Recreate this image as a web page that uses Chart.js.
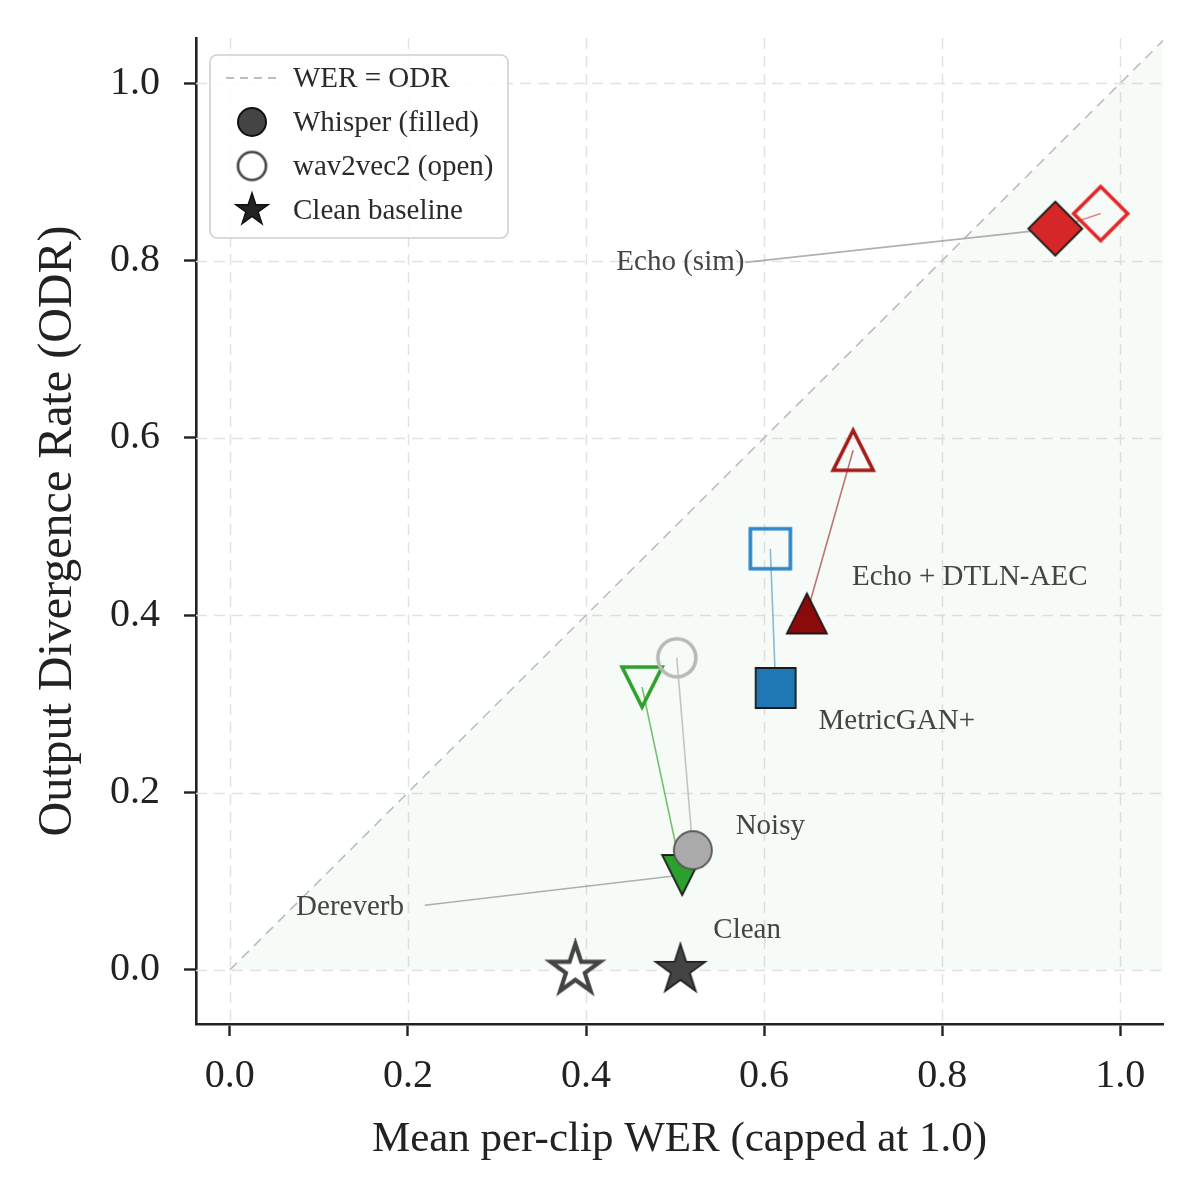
<!DOCTYPE html>
<html>
<head>
<meta charset="utf-8">
<script src="https://cdn.jsdelivr.net/npm/chart.js@4.4.1/dist/chart.umd.min.js"></script>
<style>
  html, body { margin: 0; padding: 0; background: #ffffff; }
  #wrap { width: 1200px; height: 1200px; }
</style>
</head>
<body>
<div id="wrap"><canvas id="c" width="1200" height="1200"></canvas></div>
<script>
// ---------------- data ----------------
const conditions = ['Clean', 'Noisy', 'Dereverb', 'MetricGAN+', 'Echo + DTLN-AEC', 'Echo (sim)'];
const whisperWER = [0.506, 0.520, 0.508, 0.613, 0.648, 0.927];
const whisperODR = [0.000, 0.135, 0.107, 0.318, 0.402, 0.836];
const w2vWER     = [0.388, 0.502, 0.463, 0.607, 0.700, 0.978];
const w2vODR     = [0.000, 0.352, 0.319, 0.475, 0.586, 0.853];
const xTicks = [0.0, 0.2, 0.4, 0.6, 0.8, 1.0];
const yTicks = [0.0, 0.2, 0.4, 0.6, 0.8, 1.0];
const legendLabels = ['WER = ODR', 'Whisper (filled)', 'wav2vec2 (open)', 'Clean baseline'];
const xTitle = 'Mean per-clip WER (capped at 1.0)';
const yTitle = 'Output Divergence Rate (ODR)';

// ---------------- layout / style ----------------
const FONT = "'Liberation Serif', 'DejaVu Serif', serif";
const styles = [
  { shape: 'star',    size: 26, fill: '#444444', edge: '#222222', open: '#444444', link: null },
  { shape: 'circle',  size: 19, fill: '#aaaaaa', edge: '#555555', open: '#b8b8b8', link: 'rgba(160,160,160,0.6)' },
  { shape: 'tridown', size: 20, fill: '#2ca02c', edge: '#1a1a1a', open: '#2ca02c', link: 'rgba(44,160,44,0.65)' },
  { shape: 'square',  size: 20, fill: '#1f77b4', edge: '#1a1a1a', open: '#2f86c6', link: 'rgba(31,119,180,0.5)' },
  { shape: 'triup',   size: 20, fill: '#8b0a0a', edge: '#1a1a1a', open: '#a31a1a', link: 'rgba(139,10,10,0.55)' },
  { shape: 'diamond', size: 27, fill: '#d62728', edge: '#1a1a1a', open: '#e3262a', link: 'rgba(214,39,40,0.55)' }
];
// annotation placement (data coords)
const annX = [0.581, 0.607, 0.135, 0.749, 0.831, 0.506];
const annY = [0.045, 0.162, 0.070, 0.280, 0.443, 0.798];
// leader line start points for the annotations that have one
const leaders = [
  { idx: 5, x: 0.579, y: 0.798 },
  { idx: 2, x: 0.219, y: 0.073 }
];

function pathShape(ctx, shape, s) {
  ctx.beginPath();
  if (shape === 'circle') {
    ctx.arc(0, 0, s, 0, Math.PI * 2);
  } else if (shape === 'square') {
    ctx.rect(-s, -s, 2 * s, 2 * s);
  } else if (shape === 'diamond') {
    ctx.moveTo(0, -s); ctx.lineTo(s, 0); ctx.lineTo(0, s); ctx.lineTo(-s, 0); ctx.closePath();
  } else if (shape === 'triup') {
    ctx.moveTo(0, -s); ctx.lineTo(s, s); ctx.lineTo(-s, s); ctx.closePath();
  } else if (shape === 'tridown') {
    ctx.moveTo(0, s); ctx.lineTo(s, -s); ctx.lineTo(-s, -s); ctx.closePath();
  } else if (shape === 'star') {
    const inner = s * 0.381966;
    for (let k = 0; k < 10; k++) {
      const r = k % 2 === 0 ? s : inner;
      const a = -Math.PI / 2 + k * Math.PI / 5;
      const px = r * Math.cos(a), py = r * Math.sin(a);
      if (k === 0) ctx.moveTo(px, py); else ctx.lineTo(px, py);
    }
    ctx.closePath();
  }
}

function makeMarker(shape, s, fill, edge, lw) {
  const c = document.createElement('canvas');
  const dim = Math.ceil(2 * s + lw + 6);
  c.width = dim; c.height = dim;
  const ctx = c.getContext('2d');
  ctx.translate(dim / 2, dim / 2);
  pathShape(ctx, shape, s);
  ctx.lineJoin = 'miter';
  if (fill) { ctx.fillStyle = fill; ctx.fill(); }
  ctx.lineWidth = lw; ctx.strokeStyle = edge; ctx.stroke();
  return c;
}

// ---------------- datasets ----------------
const datasets = [];

// y = x reference line, with shaded region beneath it
datasets.push({
  type: 'line', label: legendLabels[0],
  data: [{ x: 0, y: 0 }, { x: 1.2, y: 1.2 }],
  borderColor: '#bdbdbd', borderWidth: 1.6, borderDash: [10, 7],
  backgroundColor: 'rgba(44,160,44,0.04)', fill: 'origin',
  pointRadius: 0, order: 20
});

// links between wav2vec2 and Whisper per condition
conditions.forEach((name, i) => {
  if (!styles[i].link) return;
  datasets.push({
    type: 'line', label: name + ' link',
    data: [{ x: w2vWER[i], y: w2vODR[i] }, { x: whisperWER[i], y: whisperODR[i] }],
    borderColor: styles[i].link, borderWidth: 1.6, pointRadius: 0, fill: false, order: 10
  });
});

// leader lines for annotations
leaders.forEach(L => {
  datasets.push({
    type: 'line', label: conditions[L.idx] + ' leader',
    data: [{ x: L.x, y: L.y }, { x: whisperWER[L.idx], y: whisperODR[L.idx] }],
    borderColor: 'rgba(150,150,150,0.75)', borderWidth: 1.6, pointRadius: 0, fill: false, order: 10
  });
});

// markers
conditions.forEach((name, i) => {
  const st = styles[i];
  const openImg = makeMarker(st.shape, st.size, st.shape === 'star' ? '#ffffff' : null, st.open, st.shape === 'star' ? 4.2 : 3.6);
  const fillImg = makeMarker(st.shape, st.size, st.fill, st.edge, 1.8);
  datasets.push({
    type: 'scatter', label: name + ' wav2vec2',
    data: [{ x: w2vWER[i], y: w2vODR[i] }],
    pointStyle: openImg, pointRadius: st.size, order: 2
  });
  datasets.push({
    type: 'scatter', label: name + ' Whisper',
    data: [{ x: whisperWER[i], y: whisperODR[i] }],
    pointStyle: fillImg, pointRadius: st.size, order: 1
  });
});

// ---------------- plugins ----------------
const gridPlugin = {
  id: 'dashGrid',
  beforeDatasetsDraw(chart) {
    const { ctx, chartArea: a, scales: { x, y } } = chart;
    ctx.save();
    ctx.strokeStyle = '#e2e2e2';
    ctx.lineWidth = 1.5;
    ctx.setLineDash([11, 7]);
    xTicks.forEach(v => {
      const px = Math.round(x.getPixelForValue(v)) + 0.5;
      ctx.beginPath(); ctx.moveTo(px, a.top); ctx.lineTo(px, a.bottom); ctx.stroke();
    });
    yTicks.forEach(v => {
      const py = Math.round(y.getPixelForValue(v)) + 0.5;
      ctx.beginPath(); ctx.moveTo(a.left, py); ctx.lineTo(a.right, py); ctx.stroke();
    });
    ctx.restore();
  }
};

const annotPlugin = {
  id: 'annot',
  afterDatasetsDraw(chart) {
    const { ctx, scales: { x, y } } = chart;
    ctx.save();
    ctx.font = '29px ' + FONT;
    ctx.fillStyle = '#444444';
    ctx.textAlign = 'center';
    ctx.textBaseline = 'middle';
    conditions.forEach((name, i) => {
      ctx.fillText(name, x.getPixelForValue(annX[i]), y.getPixelForValue(annY[i]));
    });
    ctx.restore();
  }
};

const legendPlugin = {
  id: 'customLegend',
  afterDraw(chart) {
    const { ctx, chartArea: a } = chart;
    const bx = a.left + 14, by = a.top + 17, bw = 298, bh = 183, r = 7;
    ctx.save();
    ctx.fillStyle = 'rgba(255,255,255,0.85)';
    ctx.strokeStyle = '#d0d0d0';
    ctx.lineWidth = 1.6;
    ctx.beginPath();
    ctx.moveTo(bx + r, by);
    ctx.arcTo(bx + bw, by, bx + bw, by + bh, r);
    ctx.arcTo(bx + bw, by + bh, bx, by + bh, r);
    ctx.arcTo(bx, by + bh, bx, by, r);
    ctx.arcTo(bx, by, bx + bw, by, r);
    ctx.closePath();
    ctx.fill(); ctx.stroke();

    const rowY = [by + 23, by + 67, by + 111, by + 155];
    const mx = bx + 42;
    // dashed line sample
    ctx.strokeStyle = '#bdbdbd'; ctx.lineWidth = 1.8; ctx.setLineDash([8, 6]);
    ctx.beginPath(); ctx.moveTo(bx + 16, rowY[0]); ctx.lineTo(bx + 70, rowY[0]); ctx.stroke();
    ctx.setLineDash([]);
    const m1 = makeMarker('circle', 14, '#444444', '#111111', 2);
    const m2 = makeMarker('circle', 14, null, '#444444', 2.6);
    const m3 = makeMarker('star', 17, '#222222', '#111111', 1.5);
    [m1, m2, m3].forEach((m, k) => ctx.drawImage(m, mx - m.width / 2, rowY[k + 1] - m.height / 2));
    ctx.font = '29px ' + FONT;
    ctx.fillStyle = '#2a2a2a';
    ctx.textAlign = 'left';
    ctx.textBaseline = 'middle';
    legendLabels.forEach((t, k) => ctx.fillText(t, bx + 83, rowY[k] + 1));
    ctx.restore();
  }
};

// ---------------- chart ----------------
const tickFont = { family: FONT, size: 40 };
const xTitleFont = { family: FONT, size: 43 };
const yTitleFont = { family: FONT, size: 48 };

new Chart(document.getElementById('c'), {
  type: 'scatter',
  data: { datasets },
  options: {
    responsive: false,
    animation: false,
    devicePixelRatio: 1,
    layout: { padding: { top: 38, right: 37, left: 0, bottom: 0 } },
    plugins: { legend: { display: false }, tooltip: { enabled: false } },
    scales: {
      x: {
        type: 'linear', min: -0.038, max: 1.048,
        afterFit(s) { s.height = 176; s.paddingLeft = 0; s.paddingRight = 0; },
        afterBuildTicks(s) { s.ticks = xTicks.map(v => ({ value: v })); },
        ticks: { font: tickFont, color: '#222222', padding: 16, callback: v => Number(v).toFixed(1) },
        grid: { drawOnChartArea: false, drawTicks: true, tickLength: 12, tickWidth: 2.4, tickColor: '#222222' },
        border: { display: true, color: '#222222', width: 2.6 },
        title: { display: true, text: xTitle, font: xTitleFont, color: '#222222', padding: { top: 0, bottom: 34 } }
      },
      y: {
        type: 'linear', min: -0.061, max: 1.051,
        afterFit(s) { s.width = 196; s.paddingTop = 0; s.paddingBottom = 0; },
        afterBuildTicks(s) { s.ticks = yTicks.map(v => ({ value: v })); },
        ticks: { font: tickFont, color: '#222222', padding: 24, callback: v => Number(v).toFixed(1) },
        grid: { drawOnChartArea: false, drawTicks: true, tickLength: 12, tickWidth: 2.4, tickColor: '#222222' },
        border: { display: true, color: '#222222', width: 2.6 },
        title: { display: true, text: yTitle, font: yTitleFont, color: '#222222', padding: { top: 30, bottom: 0 } }
      }
    }
  },
  plugins: [gridPlugin, annotPlugin, legendPlugin]
});
</script>
</body>
</html>
